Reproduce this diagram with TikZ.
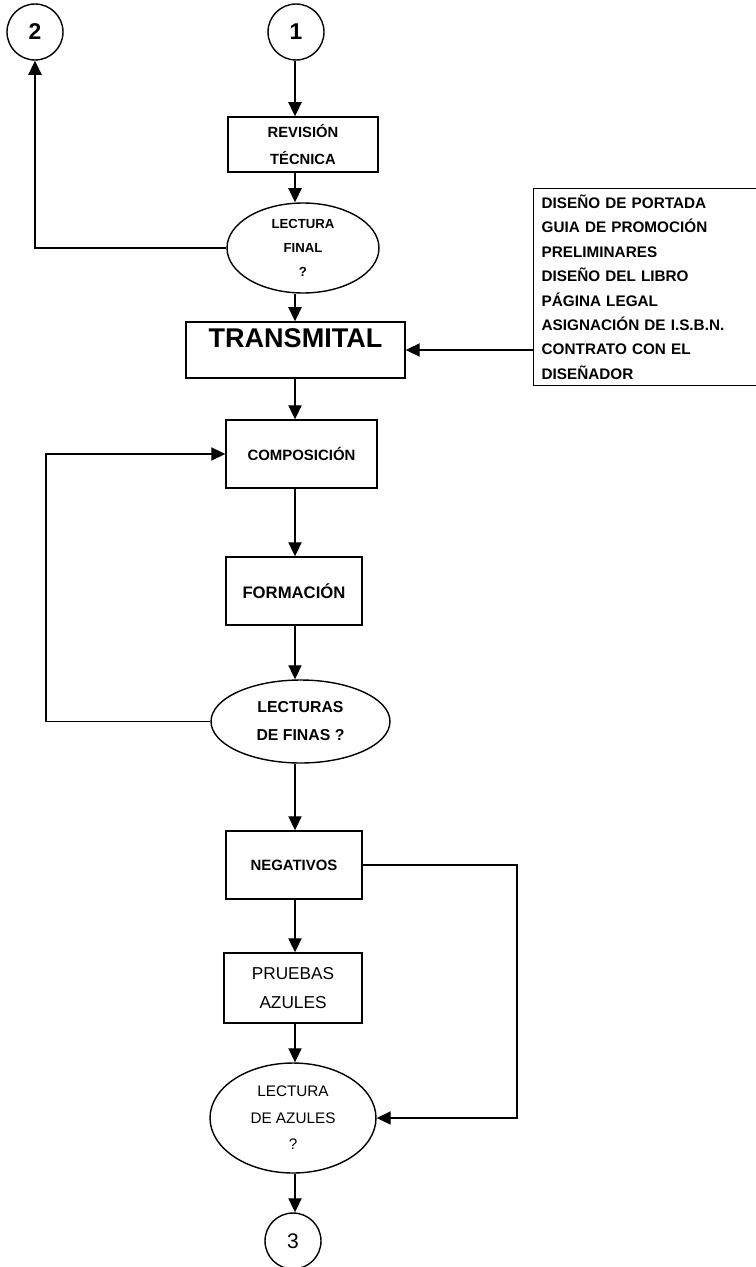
\documentclass[tikz,border=0pt]{standalone}
\usepackage{fontspec}
\setmainfont{Liberation Sans}
\usetikzlibrary{arrows.meta,shapes.geometric}

\begin{document}
\begin{tikzpicture}[x=0.02cm,y=-0.02cm,
  caja/.style={draw, line width=0.8pt, inner sep=0pt, align=center},
  decision/.style={draw, ellipse, line width=0.8pt, inner sep=0pt, align=center},
  conector/.style={draw, circle, line width=0.8pt, minimum size=1.12cm, inner sep=0pt},
  flecha/.style={line width=0.8pt, -{Triangle[length=8pt,width=7.5pt]}},
  linea/.style={line width=0.8pt}]
\useasboundingbox (0,0) rectangle (756,1267);

\node[conector, font=\fontsize{13}{15}\selectfont\bfseries] (c2) at (35,32) {2};
\node[conector, font=\fontsize{13}{15}\selectfont\bfseries] (c1) at (296,32) {1};
\coordinate (eje) at (295,0);

\node[caja, minimum width=3cm, minimum height=1.1cm, font=\fontsize{8.4}{15.4}\selectfont\bfseries] (rev) at (303,144.5) {REVISIÓN\\TÉCNICA};
\node[decision, minimum width=3.04cm, minimum height=1.8cm, font=\fontsize{7.5}{13.7}\selectfont\bfseries] (lfin) at (303,248) {LECTURA\\FINAL\\?};
\node[caja, minimum width=4.38cm, minimum height=1.12cm, label={[anchor=north, inner sep=0pt, yshift=-4pt, font=\fontsize{15.4}{17}\selectfont\bfseries]north:TRANSMITAL}] (trans) at (295.5,350) {};
\node[caja, minimum width=4.8cm, minimum height=3.94cm, text width=4.48cm, align=left, anchor=north west, font=\fontsize{8.7}{13.9}\selectfont\bfseries] (lista) at (533,188) {DISEÑO DE PORTADA\\GUIA DE PROMOCIÓN\\PRELIMINARES\\DISEÑO DEL LIBRO\\PÁGINA LEGAL\\ASIGNACIÓN DE I.S.B.N.\\CONTRATO CON EL\\DISEÑADOR};

\node[caja, minimum width=3.02cm, minimum height=1.36cm, font=\fontsize{8.5}{10}\selectfont\bfseries] (comp) at (301.5,454) {COMPOSICIÓN};
\node[caja, minimum width=2.72cm, minimum height=1.36cm, font=\fontsize{9.5}{11}\selectfont\bfseries] (form) at (294,591) {FORMACIÓN};
\node[decision, minimum width=3.58cm, minimum height=1.66cm, font=\fontsize{9}{15.9}\selectfont\bfseries] (lfinas) at (300.5,721.5) {LECTURAS\\DE FINAS ?};
\coordinate (izq) at (46,721.5);

\node[caja, minimum width=2.72cm, minimum height=1.36cm, font=\fontsize{8.5}{10}\selectfont\bfseries] (neg) at (294,865) {NEGATIVOS};
\coordinate (der) at (517,865);
\node[caja, minimum width=2.76cm, minimum height=1.4cm, font=\fontsize{9.8}{17}\selectfont] (prue) at (293,988) {PRUEBAS\\AZULES};
\node[decision, minimum width=3.32cm, minimum height=2.2cm, font=\fontsize{8.7}{15}\selectfont] (lazul) at (293,1118) {LECTURA\\DE AZULES\\?};
\node[conector, font=\fontsize{12}{14}\selectfont] (c3) at (293,1241) {3};

\draw[flecha] (c1.south -| eje) -- (rev.north -| eje);
\draw[flecha] (rev.south -| eje) -- (lfin.north -| eje);
\draw[flecha] (lfin.west) -| (c2.south);
\draw[flecha] (lfin.south -| eje) -- (trans.north -| eje);
\draw[flecha] (lista.west |- trans.east) -- (trans.east);
\draw[flecha] (trans.south -| eje) -- (comp.north -| eje);
\draw[flecha] (comp.south -| eje) -- (form.north -| eje);
\draw[flecha] (form.south -| eje) -- (lfinas.north -| eje);
\draw[flecha] (lfinas.west) -- (izq) |- (comp.west);
\draw[flecha] (lfinas.south -| eje) -- (neg.north -| eje);
\draw[flecha] (neg.south -| eje) -- (prue.north -| eje);
\draw[flecha] (neg.east) -- (der) |- (lazul.east);
\draw[flecha] (prue.south -| eje) -- (lazul.north -| eje);
\draw[flecha] (lazul.south -| eje) -- (c3.north -| eje);
\end{tikzpicture}
\end{document}
